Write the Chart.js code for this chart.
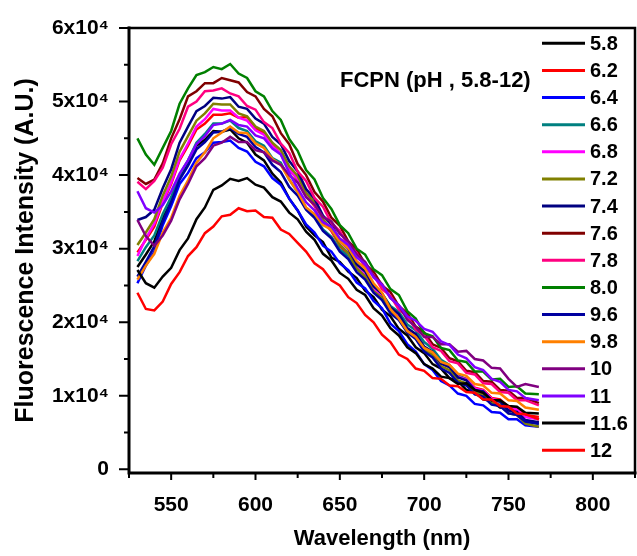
<!DOCTYPE html>
<html>
<head>
<meta charset="utf-8">
<script src="https://cdn.jsdelivr.net/npm/chart.js@4.4.0/dist/chart.umd.min.js"></script>
<style>
  html, body { margin: 0; padding: 0; background: #fff; }
  canvas { display: block; }
</style>
</head>
<body>
<canvas id="chart" width="637" height="556"></canvas>
<script>
// wavelength (nm)
const wavelengths = [530,535,540,545,550,555,560,565,570,575,580,585,590,595,600,605,610,615,620,625,630,635,640,645,650,655,660,665,670,675,680,685,690,695,700,705,710,715,720,725,730,735,740,745,750,755,760,768];

// intensity, in units of 10^4 a.u.
const ph58 = [2.75,2.92,3.10,3.42,3.68,3.99,4.18,4.40,4.48,4.60,4.59,4.62,4.50,4.44,4.28,4.20,4.02,3.90,3.68,3.52,3.30,3.18,3.09,2.88,2.82,2.69,2.60,2.43,2.34,2.17,2.08,1.91,1.82,1.66,1.58,1.43,1.37,1.24,1.20,1.08,1.05,0.95,0.93,0.84,0.83,0.74,0.73,0.68];
const ph62 = [2.95,3.12,3.30,3.62,3.88,4.20,4.40,4.62,4.70,4.82,4.82,4.84,4.78,4.79,4.64,4.57,4.40,4.29,4.08,3.94,3.72,3.58,3.37,3.24,3.04,2.92,2.73,2.62,2.44,2.34,2.16,2.07,1.90,1.82,1.66,1.59,1.45,1.40,1.27,1.23,1.11,1.08,0.97,0.95,0.85,0.83,0.74,0.71];
const ph64 = [2.53,2.77,2.96,3.32,3.58,3.88,4.03,4.23,4.31,4.44,4.45,4.47,4.37,4.32,4.18,4.12,3.96,3.87,3.68,3.52,3.33,3.22,3.04,2.96,2.80,2.71,2.54,2.46,2.29,2.19,1.98,1.88,1.70,1.60,1.43,1.35,1.20,1.14,1.03,1.00,0.89,0.87,0.78,0.77,0.68,0.68,0.60,0.58];
const ph66 = [2.83,3.02,3.18,3.47,3.70,4.00,4.20,4.44,4.56,4.70,4.70,4.74,4.64,4.60,4.46,4.40,4.23,4.17,3.94,3.77,3.55,3.44,3.26,3.16,2.99,2.90,2.73,2.64,2.47,2.39,2.22,2.14,1.97,1.89,1.73,1.64,1.49,1.42,1.28,1.22,1.08,1.03,0.91,0.87,0.76,0.74,0.65,0.62];
const ph68 = [2.90,3.14,3.34,3.64,3.90,4.22,4.43,4.66,4.76,4.90,4.88,4.88,4.78,4.74,4.61,4.55,4.39,4.29,4.08,3.95,3.74,3.60,3.39,3.26,3.06,2.94,2.75,2.64,2.45,2.35,2.17,2.07,1.90,1.82,1.66,1.59,1.44,1.39,1.26,1.22,1.10,1.07,0.96,0.93,0.83,0.81,0.71,0.68];
const ph72 = [3.05,3.22,3.40,3.72,3.98,4.32,4.53,4.74,4.84,4.97,4.96,4.96,4.84,4.80,4.66,4.60,4.44,4.34,4.12,3.99,3.76,3.63,3.40,3.27,3.05,2.94,2.73,2.62,2.42,2.33,2.14,2.05,1.87,1.80,1.63,1.56,1.40,1.35,1.21,1.17,1.04,1.02,0.90,0.88,0.76,0.74,0.62,0.58];
const ph74 = [3.39,3.43,3.53,3.82,4.08,4.44,4.66,4.87,4.94,5.05,5.04,5.06,4.93,4.90,4.77,4.70,4.52,4.42,4.19,4.05,3.81,3.68,3.45,3.33,3.11,3.00,2.79,2.69,2.49,2.39,2.20,2.11,1.92,1.84,1.67,1.60,1.44,1.39,1.25,1.21,1.08,1.06,0.94,0.92,0.80,0.78,0.67,0.64];
const ph76 = [3.96,3.88,3.94,4.16,4.50,4.76,5.07,5.14,5.25,5.25,5.32,5.29,5.26,5.13,5.07,4.90,4.80,4.57,4.42,4.15,4.00,3.77,3.64,3.42,3.31,3.10,2.99,2.79,2.69,2.50,2.41,2.22,2.12,1.94,1.86,1.70,1.65,1.51,1.47,1.34,1.32,1.20,1.19,1.08,1.07,0.97,0.97,0.90];
const ph78 = [3.91,3.81,3.92,4.10,4.42,4.63,4.93,5.00,5.14,5.15,5.18,5.11,5.07,4.94,4.89,4.72,4.64,4.43,4.30,4.05,3.92,3.69,3.57,3.35,3.24,3.04,2.94,2.74,2.64,2.45,2.36,2.17,2.08,1.90,1.82,1.66,1.61,1.47,1.44,1.31,1.29,1.17,1.16,1.05,1.04,0.94,0.94,0.87];
const ph80 = [4.50,4.28,4.14,4.37,4.60,4.97,5.18,5.36,5.40,5.47,5.44,5.51,5.38,5.32,5.14,5.07,4.87,4.75,4.49,4.33,4.07,3.94,3.69,3.54,3.32,3.21,3.00,2.92,2.72,2.64,2.45,2.37,2.15,2.05,1.85,1.81,1.65,1.62,1.48,1.46,1.33,1.33,1.22,1.23,1.12,1.13,1.03,1.02];
const ph96 = [2.62,2.82,3.03,3.37,3.63,3.94,4.13,4.35,4.45,4.58,4.59,4.64,4.56,4.52,4.38,4.31,4.14,4.04,3.84,3.72,3.53,3.42,3.24,3.14,2.96,2.86,2.68,2.58,2.40,2.30,2.12,2.03,1.86,1.77,1.60,1.52,1.37,1.31,1.18,1.14,1.02,0.99,0.88,0.86,0.76,0.74,0.65,0.62];
const ph98 = [2.58,2.77,2.93,3.22,3.42,3.72,3.93,4.17,4.31,4.50,4.58,4.66,4.58,4.57,4.43,4.37,4.22,4.14,3.94,3.77,3.56,3.47,3.32,3.26,3.10,3.01,2.83,2.73,2.53,2.40,2.18,2.05,1.88,1.80,1.65,1.59,1.46,1.42,1.30,1.27,1.16,1.14,1.04,1.03,0.94,0.93,0.84,0.81];
const ph10 = [3.39,3.17,3.04,3.18,3.38,3.67,3.88,4.12,4.23,4.40,4.44,4.52,4.45,4.45,4.34,4.31,4.20,4.14,4.00,3.90,3.70,3.60,3.43,3.37,3.20,3.10,2.92,2.82,2.63,2.52,2.33,2.23,2.03,1.94,1.80,1.80,1.70,1.70,1.60,1.61,1.50,1.48,1.38,1.37,1.23,1.12,1.16,1.12];
const ph11 = [3.78,3.55,3.49,3.59,3.78,4.02,4.20,4.42,4.53,4.68,4.70,4.75,4.68,4.66,4.54,4.50,4.36,4.28,4.03,3.82,3.63,3.52,3.36,3.30,3.14,3.05,2.88,2.79,2.61,2.51,2.33,2.23,2.08,2.02,1.91,1.87,1.74,1.69,1.56,1.51,1.39,1.35,1.23,1.19,1.08,1.06,0.97,0.94];
const ph116 = [2.71,2.53,2.47,2.62,2.74,2.98,3.14,3.40,3.56,3.80,3.86,3.95,3.92,3.96,3.87,3.83,3.70,3.64,3.49,3.40,3.23,3.12,2.93,2.84,2.67,2.59,2.44,2.37,2.19,2.09,1.92,1.82,1.66,1.58,1.43,1.37,1.26,1.24,1.16,1.17,1.08,1.04,0.94,0.94,0.86,0.85,0.77,0.76];
const ph12 = [2.40,2.18,2.16,2.28,2.52,2.68,2.90,3.02,3.21,3.30,3.44,3.46,3.55,3.51,3.52,3.43,3.42,3.26,3.20,3.08,2.96,2.80,2.72,2.57,2.50,2.34,2.26,2.10,2.00,1.83,1.73,1.56,1.50,1.37,1.34,1.24,1.23,1.14,1.13,1.05,1.04,0.95,0.95,0.86,0.85,0.76,0.75,0.68];

const phLabels = ["5.8","6.2","6.4","6.6","6.8","7.2","7.4","7.6","7.8","8.0","9.6","9.8","10","11","11.6","12"];
const series = [ph58,ph62,ph64,ph66,ph68,ph72,ph74,ph76,ph78,ph80,ph96,ph98,ph10,ph11,ph116,ph12];
const colors = ["#000000","#ff0000","#0000ff","#008080","#ff00ff","#808000","#000080","#800000","#ff0080","#008000","#0000a0","#ff8000","#800080","#8000ff","#000000","#ff0000"];

const xTicks = [550,600,650,700,750,800];
const xMinor = [525,575,625,675,725,775,825];
const yTicks = [0,1,2,3,4,5,6];
const yMinor = [0.5,1.5,2.5,3.5,4.5,5.5];

const FONT = '"Liberation Sans", Arial, sans-serif';
Chart.defaults.font.family = FONT;
Chart.defaults.color = "#000";

const datasets = series.map((s, i) => ({
  label: phLabels[i],
  data: wavelengths.map((w, j) => ({ x: w, y: s[j] })),
  borderColor: colors[i],
  borderWidth: 2.5,
  pointRadius: 0,
  tension: 0,
  fill: false,
  order: series.length - i,
}));

// axes frame, ticks, legend and note drawn on top
const frame = {
  id: "frame",
  afterDraw(chart) {
    const { ctx, chartArea: a, scales } = chart;
    const x = scales.x, y = scales.y;
    ctx.save();
    ctx.strokeStyle = "#000";
    ctx.lineCap = "square";
    ctx.lineWidth = 3;
    ctx.beginPath();
    ctx.moveTo(a.left, a.top);
    ctx.lineTo(a.left, a.bottom);
    ctx.lineTo(a.right, a.bottom);
    ctx.stroke();
    ctx.lineWidth = 2.5;
    ctx.beginPath();
    ctx.moveTo(a.left, a.top);
    ctx.lineTo(a.right, a.top);
    ctx.lineTo(a.right, a.bottom);
    ctx.stroke();

    ctx.lineWidth = 2;
    ctx.lineCap = "butt";
    ctx.beginPath();
    xTicks.forEach(v => { const p = x.getPixelForValue(v); ctx.moveTo(p, a.bottom); ctx.lineTo(p, a.bottom + 7); });
    xMinor.forEach(v => { const p = x.getPixelForValue(v); ctx.moveTo(p, a.bottom); ctx.lineTo(p, a.bottom + 5); });
    yTicks.forEach(v => { const p = y.getPixelForValue(v); ctx.moveTo(a.left, p); ctx.lineTo(a.left - 10, p); });
    yMinor.forEach(v => { const p = y.getPixelForValue(v); ctx.moveTo(a.left, p); ctx.lineTo(a.left - 5, p); });
    ctx.stroke();

    // legend
    ctx.font = "bold 20px " + FONT;
    ctx.textBaseline = "middle";
    ctx.textAlign = "left";
    ctx.lineWidth = 3;
    phLabels.forEach((lab, i) => {
      const yy = 43.3 + i * 27.13;
      ctx.strokeStyle = colors[i];
      ctx.beginPath();
      ctx.moveTo(542, yy);
      ctx.lineTo(585, yy);
      ctx.stroke();
      ctx.fillStyle = "#000";
      ctx.fillText(lab, 590, yy + 1);
    });

    ctx.font = "bold 22px " + FONT;
    ctx.fillText("FCPN (pH , 5.8-12)", 340, 81);
    ctx.restore();
  }
};

new Chart(document.getElementById("chart"), {
  type: "line",
  data: { datasets },
  plugins: [frame],
  options: {
    responsive: false,
    animation: false,
    layout: { padding: { top: 28, right: 2, left: 0, bottom: 0 } },
    plugins: { legend: { display: false }, tooltip: { enabled: false } },
    scales: {
      x: {
        type: "linear",
        min: 525,
        max: 825,
        afterBuildTicks: s => { s.ticks = xTicks.map(v => ({ value: v })); },
        afterFit: s => { s.height = 83; },
        grid: { display: false },
        border: { display: false },
        ticks: { padding: 12, maxRotation: 0, font: { size: 21, weight: "bold" }, callback: v => String(v) },
        title: { display: true, text: "Wavelength (nm)", font: { size: 22, weight: "bold" }, padding: { top: 0, bottom: 4 } },
      },
      y: {
        type: "linear",
        min: -0.05,
        max: 6,
        afterBuildTicks: s => { s.ticks = yTicks.map(v => ({ value: v })); },
        afterFit: s => { s.width = 129; },
        grid: { display: false },
        border: { display: false },
        ticks: { padding: 12, font: { size: 21, weight: "bold" }, callback: v => (v === 0 ? "0" : v + "x10\u2074") },
        title: { display: true, text: "Fluorescence Intensity (A.U.)", font: { size: 25, weight: "bold" }, padding: { top: 11, bottom: 0 } },
      },
    },
  },
});
</script>
</body>
</html>
